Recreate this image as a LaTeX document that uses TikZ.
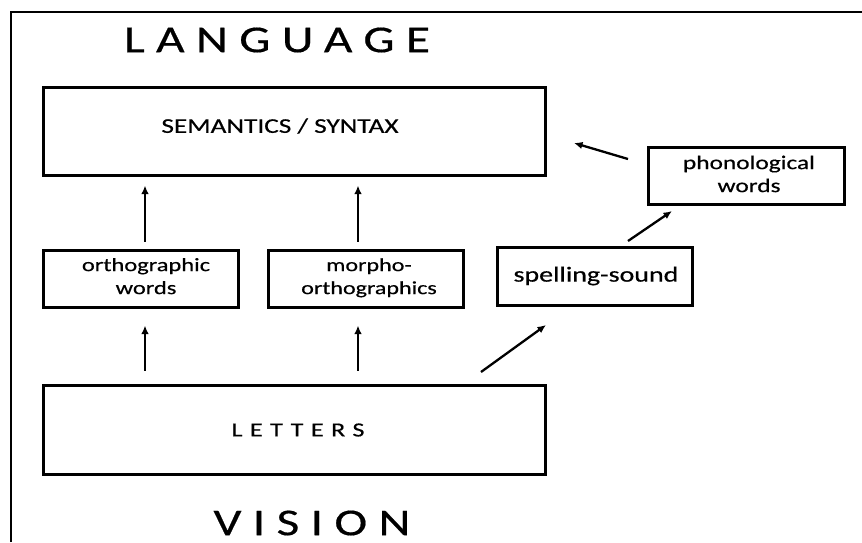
\documentclass[tikz,border=0pt]{standalone}
\usepackage{fontspec}
\setmainfont{Carlito}[FakeBold=0.4]
\newfontfamily\spacedbig{Carlito}[LetterSpace=23,FakeBold=0.4]
\newfontfamily\spacedsmall{Carlito}[LetterSpace=29,FakeBold=0.4]
\usetikzlibrary{arrows.meta}
\newcommand{\sx}[1]{\scalebox{1.3}[1]{#1}}
\newcommand{\twol}[2]{\scalebox{1.3}[1]{\begin{tabular}{@{}c@{}}#1\\#2\end{tabular}}}
\begin{document}
\begin{tikzpicture}[x=1pt,y=-1pt,
  box/.style={draw,line width=3pt,inner sep=0pt,anchor=center},
  lbl/.style={inner sep=0pt,align=center,anchor=center},
  arr/.style={line width=2.3pt,-{Latex[length=8.5pt,width=7.5pt]}}]
\useasboundingbox (0,0) rectangle (862,542);
\draw[line width=1.4pt] (11,542) -- (11,12) -- (862,12);
% boxes
\node[box,minimum width=502pt,minimum height=88pt] (sem) at (294.5,131) {};
\node[box,minimum width=195pt,minimum height=57pt] (ortho) at (140.5,278.5) {};
\node[box,minimum width=195pt,minimum height=57pt] (morph) at (365.5,278.5) {};
\node[box,minimum width=195pt,minimum height=58pt] (spell) at (594.5,276) {};
\node[box,minimum width=196pt,minimum height=57pt] (phon) at (746,175.5) {};
\node[box,minimum width=502pt,minimum height=89pt] (lett) at (294.5,429.5) {};
% texts
\node[lbl,font=\spacedbig\fontsize{38}{38}\selectfont] (lang) at (277,40) {\sx{LANGUAGE}};
\node[lbl,font=\fontsize{21}{21}\selectfont] (semt) at (280,126) {\sx{SEMANTICS / SYNTAX}};
\node[lbl,font=\fontsize{18.8}{23}\selectfont] (orthot) at (146,278) {\twol{orthographic}{words}};
\node[lbl,font=\fontsize{18.5}{23}\selectfont] (morpht) at (369,278) {\twol{morpho-}{orthographics}};
\node[lbl,font=\fontsize{21.5}{24}\selectfont] (spellt) at (596,276) {\sx{spelling-sound}};
\node[lbl,font=\fontsize{19.5}{23}\selectfont] (phont) at (749,176) {\twol{phonological}{words}};
\node[lbl,font=\spacedsmall\fontsize{20}{20}\selectfont] (lettt) at (298,430) {\sx{LETTERS}};
\node[lbl,font=\spacedbig\fontsize{38}{38}\selectfont] (vis) at (312,523) {\sx{VISION}};
% arrow coordinates
\coordinate (c1) at (145,0);
\coordinate (c2) at (358,0);
\coordinate (d1s) at (481,372);
\coordinate (d1e) at (546,325);
\coordinate (d2s) at (628,241);
\coordinate (d2e) at (672,211);
\coordinate (d3s) at (628,159);
\coordinate (d3e) at (574,143);
\draw[arr,shorten <=7pt,shorten >=9pt] (ortho.north -| c1) -- (sem.south -| c1);
\draw[arr,shorten <=7pt,shorten >=9pt] (morph.north -| c2) -- (sem.south -| c2);
\draw[arr,shorten <=13pt,shorten >=17pt] (lett.north -| c1) -- (ortho.south -| c1);
\draw[arr,shorten <=13pt,shorten >=17pt] (lett.north -| c2) -- (morph.south -| c2);
\draw[arr] (d1s) -- (d1e);
\draw[arr] (d2s) -- (d2e);
\draw[arr] (d3s) -- (d3e);
\end{tikzpicture}
\end{document}
